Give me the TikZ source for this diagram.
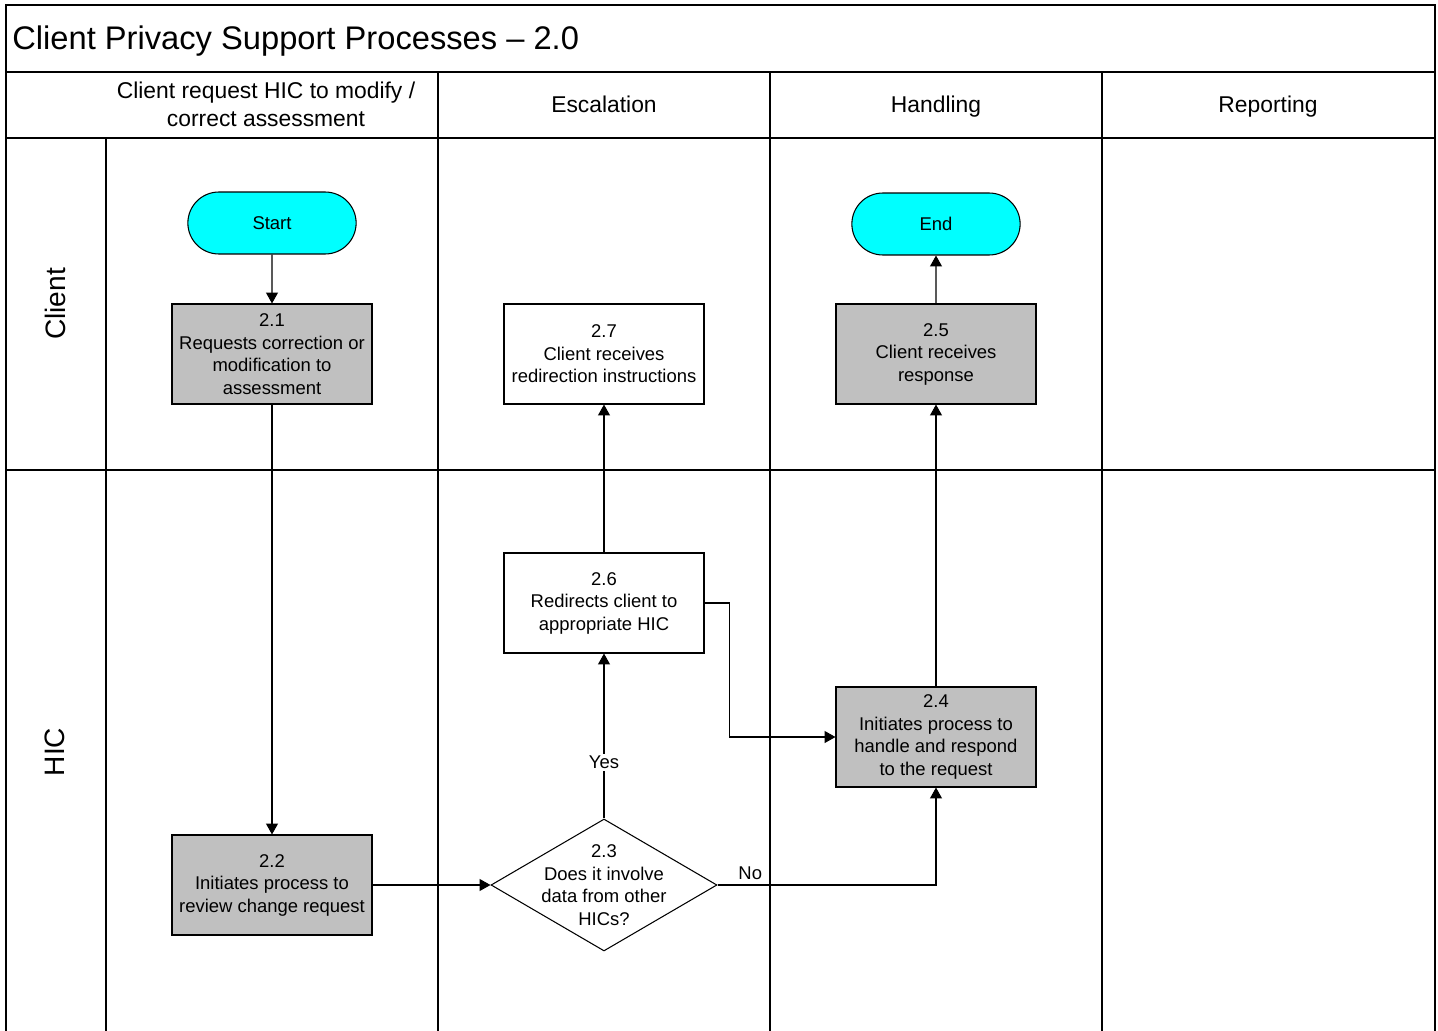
\documentclass[tikz,border=0pt]{standalone}
\usepackage{fontspec}
\setmainfont{Liberation Sans}
\usetikzlibrary{arrows.meta,shapes.geometric,shapes.misc}
\definecolor{termfill}{HTML}{00FFFF}
\definecolor{procfill}{HTML}{C0C0C0}
\tikzset{
  frame/.style={draw=black, line width=0.6pt},
  flow/.style={draw=black, line width=0.6pt, -{Triangle[length=6.2pt,width=6.8pt]}},
  boxtext/.style={font=\fontsize{10.5}{12.8}\selectfont, align=center},
  term/.style={rounded rectangle, draw=black, fill=termfill, line width=0.6pt, minimum width=3.6cm, minimum height=1.24cm, boxtext},
  proc/.style={rectangle, draw=black, fill=procfill, line width=0.6pt, minimum width=4cm, minimum height=2cm, inner sep=1pt, boxtext},
  procw/.style={proc, fill=white},
  decision/.style={diamond, draw=black, fill=white, line width=0.6pt, minimum width=4.52cm, minimum height=2.64cm, inner xsep=-0.6cm, inner ysep=-0.6cm, boxtext},
  lbl/.style={font=\fontsize{10.5}{12.8}\selectfont, inner sep=1pt},
  head/.style={font=\fontsize{13}{16}\selectfont, align=center},
  lane/.style={font=\fontsize{16}{19}\selectfont, rotate=90},
}
\begin{document}
\begin{tikzpicture}[x=0.02cm, y=-0.02cm]
  \useasboundingbox (0,0) rectangle (1438,1031);
  \draw[frame] (6,1031) -- (6,5) -- (1435,5) -- (1435,1031);
  \draw[frame] (6,72) -- (1435,72);
  \draw[frame] (6,138) -- (1435,138);
  \draw[frame] (6,470) -- (1435,470);
  \draw[frame] (106,138) -- (106,1031);
  \foreach \x in {438,770,1102}
    \draw[frame] (\x,72) -- (\x,1031);
  \node[anchor=base west, font=\fontsize{18.6}{22}\selectfont, inner sep=0pt] (title) at (12,50) {Client Privacy Support Processes -- 2.0};
  \node[head] (hrequest) at (266,104) {Client request HIC to modify /\\correct assessment};
  \node[head, anchor=base] (hescal) at (604,112) {Escalation};
  \node[head, anchor=base] (hhandle) at (936,112) {Handling};
  \node[head, anchor=base] (hreport) at (1268,112) {Reporting};
  \node[lane] (lclient) at (55,304) {Client};
  \node[lane] (lhic) at (55,752) {HIC};

  \node[term] (start) at (272,223) {Start};
  \node[term] (end) at (936,224) {End};
  \node[proc] (r21) at (272,354) {2.1\\Requests correction or\\modification to\\assessment};
  \node[procw] (r27) at (604,354) {2.7\\Client receives\\redirection instructions};
  \node[proc] (r25) at (936,354) {2.5\\Client receives\\response};
  \node[procw] (r26) at (604,603) {2.6\\Redirects client to\\appropriate HIC};
  \node[proc] (r24) at (936,737) {2.4\\Initiates process to\\handle and respond\\to the request};
  \node[proc] (r22) at (272,885) {2.2\\Initiates process to\\review change request};
  \node[decision] (d23) at (604,885) {2.3\\Does it involve\\data from other\\HICs?};

  \draw[flow] (start) -- (r21);
  \draw[flow] (r21) -- (r22);
  \draw[flow] (r22) -- (d23);
  \draw[flow] (d23) -- node[lbl, fill=white, pos=0.34] {Yes} (r26);
  \draw[flow] (r26) -- (r27);
  \draw[flow] (d23.east) -| node[lbl, pos=0.075, above=2pt] {No} (r24.south);
  \draw[flow] (r26.east) -- ++(25,0) |- (r24.west);
  \draw[flow] (r24) -- (r25);
  \draw[flow] (r25) -- (end);
\end{tikzpicture}
\end{document}
